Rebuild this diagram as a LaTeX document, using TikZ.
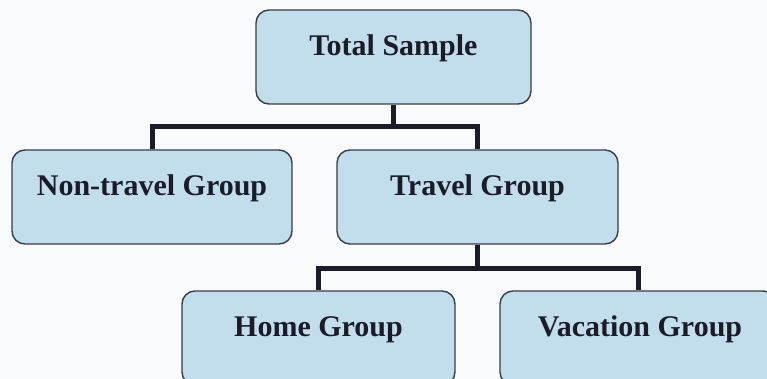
\documentclass[tikz,border=0pt]{standalone}
\usepackage{fontspec}
\setmainfont{Liberation Serif}
\definecolor{boxfill}{HTML}{C2DEEC}
\definecolor{boxline}{HTML}{3A3C48}
\definecolor{bg}{HTML}{F8FAFB}
\definecolor{txt}{HTML}{1C1C28}
\begin{document}
\begin{tikzpicture}[x=1pt,y=-1pt,
  groupbox/.style={draw=boxline, line width=1.4pt, fill=boxfill, rounded corners=13pt, inner sep=0pt},
  label/.style={text=txt, font=\fontsize{30}{36}\selectfont\bfseries, inner sep=0pt, anchor=base},
  conn/.style={line width=5pt, draw=txt, line join=miter}]
\useasboundingbox (0,0) rectangle (767,379);
\clip (0,0) rectangle (767,379);
\fill[bg] (0,0) rectangle (767,379);
% boxes
\node[groupbox, minimum width=275pt, minimum height=94pt] (total) at (393.5,57) {};
\node[groupbox, minimum width=280pt, minimum height=94pt] (non) at (152,197) {};
\node[groupbox, minimum width=281pt, minimum height=94pt] (travel) at (477.5,197) {};
\node[groupbox, minimum width=273pt, minimum height=94pt] (home) at (318.5,338) {};
\node[groupbox, minimum width=276pt, minimum height=94pt] (vac) at (638,338) {};
% labels
\node[label] (totalt) at (393.5,56) {Total Sample};
\node[label] (nont) at (152,196) {Non-travel Group};
\node[label] (travelt) at (477.5,196) {Travel Group};
\node[label] (homet) at (318.5,336) {Home Group};
\node[label] (vact) at (640,336) {Vacation Group};
% connectors
\coordinate (j1) at (393.5,127);
\coordinate (j2) at (477.5,268);
\draw[conn] (total.south) -- (j1) -| (non.north);
\draw[conn] (j1) -| (travel.north);
\draw[conn] (travel.south) -- (j2) -| (home.north);
\draw[conn] (j2) -| (vac.north);
\end{tikzpicture}
\end{document}
